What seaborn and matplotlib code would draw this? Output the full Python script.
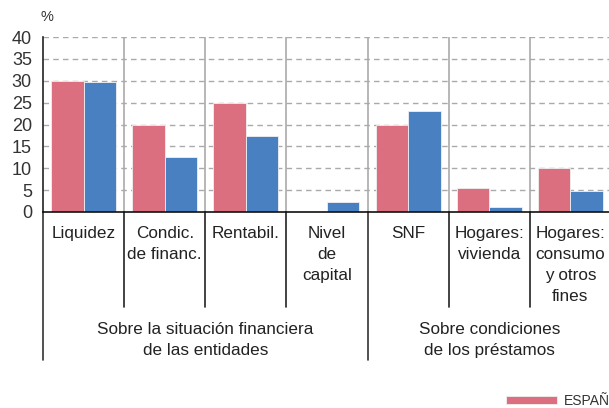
import matplotlib
matplotlib.use("Agg")
import matplotlib.pyplot as plt
import seaborn as sns
import pandas as pd
from matplotlib.transforms import blended_transform_factory

categories = ["Liquidez", "Condic.\nde financ.", "Rentabil.", "Nivel\nde\ncapital",
              "SNF", "Hogares:\nvivienda", "Hogares:\nconsumo\ny otros\nfines"]
espana = [30.0, 20.0, 25.0, 0.0, 20.0, 5.5, 10.0]
uem = [29.8, 12.6, 17.4, 2.3, 23.1, 1.2, 4.8]
series_names = ["ESPAÑA", "UEM"]
group_labels = ["Sobre la situación financiera\nde las entidades",
                "Sobre condiciones\nde los préstamos"]
y_ticks = [0, 5, 10, 15, 20, 25, 30, 35, 40]

df = pd.DataFrame({
    "cat": categories * 2,
    "serie": [series_names[0]] * len(categories) + [series_names[1]] * len(categories),
    "valor": espana + uem,
})

sns.set_theme(style="white")
plt.rcParams["font.family"] = ["Liberation Sans", "DejaVu Sans"]

W, H = 609, 408
fig = plt.figure(figsize=(W / 100, H / 100), dpi=100)
ax = fig.add_axes([43 / W, (H - 212) / H, (611 - 43) / W, 175 / H])

palette = {"ESPAÑA": "#DB6E7F", "UEM": "#4880C2"}
sns.barplot(data=df, x="cat", y="valor", hue="serie", palette=palette, ax=ax,
            width=0.8, edgecolor="#f0f0f0", linewidth=0.6, saturation=1)

ax.set_ylim(0, 40)
ax.set_xlim(-0.5, len(categories) - 0.5)
ax.set_yticks(y_ticks)
ax.set_yticklabels([str(t) for t in y_ticks], fontsize=13, color="#333333")
ax.tick_params(axis="y", direction="in", length=4, width=1, color="#333333", pad=8)
ax.set_xticks([])
ax.set_xlabel("")
ax.set_ylabel("")
for t in y_ticks[1:]:
    ax.axhline(t, color="#aaaaaa", lw=1, ls=(0, (4, 3)), zorder=0)
for x in [0.5, 1.5, 2.5, 3.5, 4.5, 5.5]:
    ax.axvline(x, color="#aaaaaa", lw=1.2, zorder=0)

for s in ["top", "right"]:
    ax.spines[s].set_visible(False)
ax.spines["left"].set_color("#222222")
ax.spines["bottom"].set_color("#111111")
ax.spines["left"].set_linewidth(1.2)
ax.spines["bottom"].set_linewidth(1.2)

tr = blended_transform_factory(ax.transData, ax.transAxes)
# category separators below axis
for x in [0.5, 1.5, 2.5, 4.5, 5.5]:
    ax.plot([x, x], [0, -0.543], transform=tr, color="#222222", lw=1.2, clip_on=False)
for x in [-0.5, 3.5]:
    ax.plot([x, x], [0, -0.846], transform=tr, color="#333333", lw=1.2, clip_on=False)

for i, c in enumerate(categories):
    ax.text(i, -0.082, c, transform=tr, ha="center", va="top", fontsize=12.3,
            color="#222222", linespacing=1.5)

ax.text(1.5, -0.63, group_labels[0], transform=tr, ha="center", va="top",
        fontsize=12.3, color="#222222", linespacing=1.45)
ax.text(5.0, -0.63, group_labels[1], transform=tr, ha="center", va="top",
        fontsize=12.3, color="#222222", linespacing=1.45)

fig.text(47 / W, (H - 17) / H, "%", fontsize=10.5, color="#333333", ha="center", va="center")

handles, labels = ax.get_legend_handles_labels()
ax.legend(handles[:1], labels[:1], loc="lower left", bbox_to_anchor=(496 / W, -10 / H),
          bbox_transform=fig.transFigure, ncol=1, frameon=False, fontsize=10,
          handlelength=3.7, handleheight=0.5, handletextpad=0.5,
          borderaxespad=0.3, labelcolor="#333333")

fig.savefig("out.png", dpi=100)
